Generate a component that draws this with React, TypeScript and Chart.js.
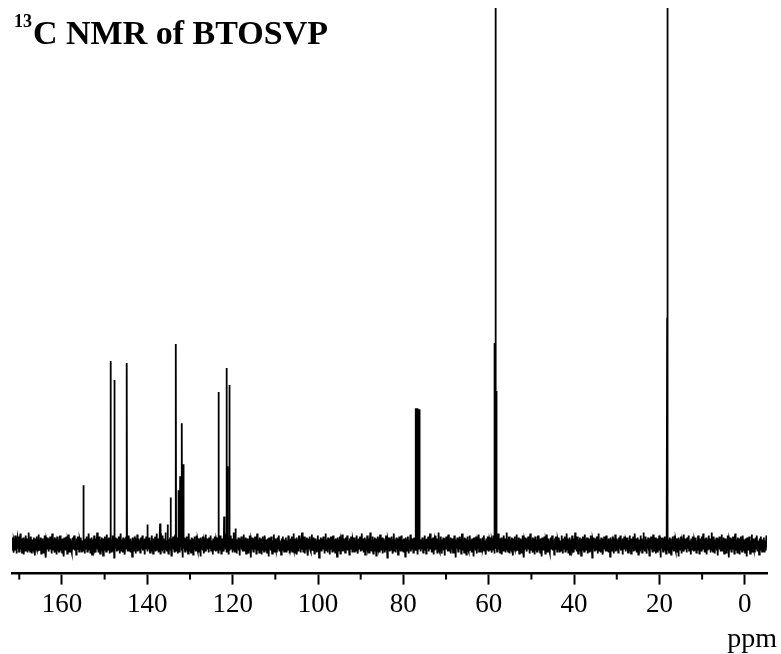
import { useEffect, useRef } from "react";
import { Chart, registerables } from "chart.js";

Chart.register(...registerables);

// Axis range (ppm), axis reversed as in NMR
const xMin = -5.2;
const xMax = 171.7;
const majorTicks = [0, 20, 40, 60, 80, 100, 120, 140, 160];
const minorTicks = [10, 30, 50, 70, 90, 110, 130, 150, 170];

// Peak positions (ppm) and heights (arbitrary intensity units, baseline = 0)
const peakShifts = [
  155.0, 148.6, 147.7, 144.8, 140.0, 137.0, 135.2, 134.5, 133.3, 132.7, 132.3,
  131.9, 131.6, 123.3, 122.0, 121.4, 121.2, 120.8, 119.3, 77.1, 76.7, 76.3,
  58.7, 58.4, 58.2, 18.2, 18.1,
];
const peakHeights = [
  59, 183, 164, 181, 20, 21, 20, 47, 200, 54, 68,
  121, 80, 152, 28, 176, 78, 159, 16, 136, 136, 135,
  201, 900, 153, 226, 900,
];

// Baseline noise samples (intensity units) read as the band's texture
const noise = [
  3, -5, 7, -2, -8, 4, 1, -6, 9, -3, 5, -9, 2, 6, -4, -1, 8, -7, 3, -2, 11, -5, 0, 6,
  -8, 4, -3, 7, -10, 2, 5, -6, 1, 9, -4, -2, 6, -8, 3, -1, 12, -5, 4, -7, 2, 8, -3, -9,
  5, 1, -4, 7, -6, 3, -11, 6, 0, -3, 8, -5, 2, -7, 4, 10, -2, -6, 5, -1, 7, -9, 3, -4,
  6, 1, -8, 4, -2, 9, -6, 2, -13, 5, 3, -4, 7, -1, -7, 6, 2, -5, 8, -3, 1, -9, 4, 11,
  -6, 0, 5, -2, -8, 7, 3, -4, 6, -10, 2, -1, 8, -5, 4, -7, 1, 9, -3, -6, 5, 2, -8, 6,
  -2, 3, -12, 7, -4, 1, 5, -6, 8, -1, -9, 4, 2, -3, 10, -7, 5, -2, 6, -5, 1, -8, 3, 7,
  -4, -1, 9, -6, 4, -3, 2, -10, 6, 1, -5, 8, -2, 3, -7, 5,
];
const gridStep = 0.1;

const SERIF = '"Liberation Serif", "Times New Roman", serif';

export default function App() {
  const ref = useRef<HTMLCanvasElement>(null);

  useEffect(() => {
    const pts: { x: number; y: number }[] = [];
    const n = Math.round((xMax - xMin) / gridStep) + 2;
    for (let i = 0; i < n; i++) {
      const x = Math.round((xMax + 0.05 - i * gridStep) * 100) / 100;
      pts.push({ x, y: noise[i % noise.length] });
    }
    peakShifts.forEach((p, k) => pts.push({ x: p, y: peakHeights[k] }));
    pts.sort((a, b) => b.x - a.x);

    const decor = {
      id: "decor",
      afterDraw(chart: any) {
        const ctx = chart.ctx;
        const xs = chart.scales.x;
        const axisY = chart.chartArea.bottom;
        ctx.save();
        // minor ticks
        ctx.strokeStyle = "#000";
        ctx.lineWidth = 2;
        minorTicks.forEach((v) => {
          const px = xs.getPixelForValue(v);
          ctx.beginPath();
          ctx.moveTo(px, axisY);
          ctx.lineTo(px, axisY + 6);
          ctx.stroke();
        });
        // axis unit
        ctx.fillStyle = "#000";
        ctx.font = `28px ${SERIF}`;
        ctx.textAlign = "right";
        ctx.textBaseline = "alphabetic";
        ctx.fillText("ppm", 777, 647);
        // title
        ctx.textAlign = "left";
        ctx.font = `bold 18px ${SERIF}`;
        ctx.fillText("13", 14, 27);
        ctx.font = `bold 34px ${SERIF}`;
        ctx.fillText("C NMR of BTOSVP", 33, 44);
        ctx.restore();
      },
    };

    const chart = new Chart(ref.current as HTMLCanvasElement, {
      type: "line",
      data: {
        datasets: [
          {
            data: pts,
            borderColor: "#000",
            borderWidth: 1.8,
            pointRadius: 0,
            tension: 0,
            fill: false,
          },
        ],
      },
      options: {
        animation: false,
        responsive: false,
        layout: { padding: { left: 12, right: 14, top: 8, bottom: 29 } },
        plugins: { legend: { display: false }, tooltip: { enabled: false } },
        scales: {
          x: {
            type: "linear",
            reverse: true,
            min: xMin,
            max: xMax,
            afterBuildTicks: (s: any) => {
              s.ticks = majorTicks.map((v) => ({ value: v }));
            },
            grid: {
              drawOnChartArea: false,
              drawTicks: true,
              tickLength: 11,
              tickWidth: 2,
              tickColor: "#000",
            },
            border: { display: true, color: "#000", width: 2.5 },
            ticks: {
              color: "#000",
              font: { family: SERIF, size: 27 },
              padding: 4,
              maxRotation: 0,
              autoSkip: false,
            },
          },
          y: { display: false, min: -29, max: 535 },
        },
      },
      plugins: [decor],
    } as any);
    return () => chart.destroy();
  }, []);

  return (
    <div style={{ position: "absolute", left: 0, top: 0, width: 781, height: 654, background: "#fff" }}>
      <canvas ref={ref} width={781} height={654} style={{ width: 781, height: 654, display: "block" }} />
    </div>
  );
}
